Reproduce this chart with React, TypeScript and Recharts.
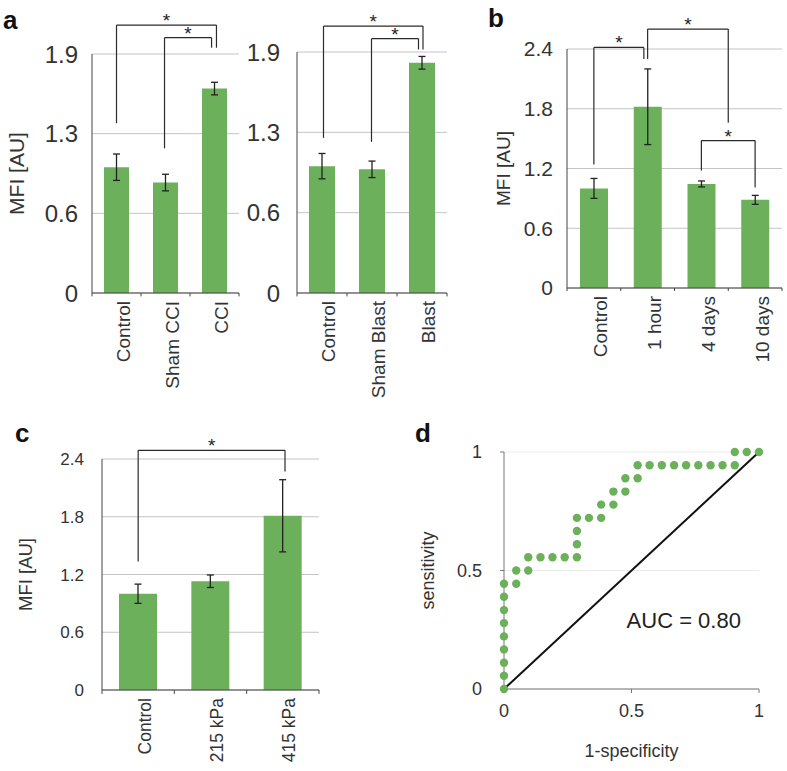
import React from 'react';
import {
  BarChart, Bar, XAxis, YAxis, CartesianGrid, ErrorBar, ReferenceLine,
  ScatterChart, Scatter, ReferenceDot,
} from 'recharts';

// ---------- Data ----------
const catsA1 = ['Control', 'Sham CCI', 'CCI'];
const valsA1 = [1.0, 0.878, 1.625];
const errA1 = [0.105, 0.066, 0.05];

const catsA2 = ['Control', 'Sham Blast', 'Blast'];
const valsA2 = [1.0, 0.975, 1.815];
const errA2 = [0.1, 0.065, 0.05];

const catsB = ['Control', '1 hour', '4 days', '10 days'];
const valsB = [1.0, 1.82, 1.045, 0.885];
const errB = [0.1, 0.38, 0.03, 0.045];

const catsC = ['Control', '215 kPa', '415 kPa'];
const valsC = [1.0, 1.13, 1.81];
const errC = [0.1, 0.065, 0.375];

const ticksA = [0, 0.6333, 1.2667, 1.9];
const ticksBC = [0, 0.6, 1.2, 1.8, 2.4];

// significance brackets: x in category-index units, y in value units
const bracketsA1 = [
  { x1: 0, x2: 2.04, top: 2.13, yl: 1.35, yr: 1.95 },
  { x1: 0.98, x2: 1.94, top: 2.03, yl: 1.15, yr: 1.95 },
];
const bracketsA2 = [
  { x1: 0.03, x2: 2.02, top: 2.104, yl: 1.223, yr: 1.92 },
  { x1: 0.99, x2: 1.93, top: 2.005, yl: 1.192, yr: 1.92 },
];
const bracketsB = [
  { x1: 0, x2: 0.93, top: 2.416, yl: 1.24, yr: 2.3 },
  { x1: 1.0, x2: 2.5, top: 2.6, yl: 2.3, yr: 1.66 },
  { x1: 2.0, x2: 3.0, top: 1.48, yl: 1.18, yr: 1.01 },
];
const bracketsC = [
  { x1: 0, x2: 2.03, top: 2.49, yl: 1.335, yr: 2.27 },
];

// ROC curve points
const rocFpr = [0, 0, 0, 0, 0, 0, 0, 0, 0, 0.048, 0.048, 0.095, 0.095, 0.143, 0.19, 0.238, 0.286, 0.286, 0.286, 0.286,
  0.333, 0.381, 0.381, 0.429, 0.429, 0.476, 0.476, 0.524, 0.524, 0.571, 0.619, 0.667, 0.714, 0.762, 0.81, 0.857, 0.905,
  0.905, 0.952, 1];
const rocTpr = [0, 0.056, 0.111, 0.167, 0.222, 0.278, 0.333, 0.389, 0.444, 0.444, 0.5, 0.5, 0.556, 0.556, 0.556, 0.556, 0.556, 0.611, 0.667, 0.722,
  0.722, 0.722, 0.778, 0.778, 0.833, 0.833, 0.889, 0.889, 0.944, 0.944, 0.944, 0.944, 0.944, 0.944, 0.944, 0.944, 0.944,
  1, 1, 1];
const rocTicks = [0, 0.5, 1];
const aucText = 'AUC = 0.80';

const GREEN = '#6cb05b';
const FONT = '"Liberation Sans", Arial, Helvetica, sans-serif';

type Bracket = { x1: number; x2: number; top: number; yl: number; yr: number };

type PanelProps = {
  cats: string[]; vals: number[]; errs: number[]; brackets: Bracket[];
  left: number; top: number; width: number; height: number;
  mTop: number; mRight: number; yWidth: number; xHeight: number;
  yMax: number; yTicks: number[]; tickFont: number; catFont: number;
  yLabel?: string; yLabelOffset?: number; yLabelFont?: number;
  barSize: number; yTickMargin: number; tickLen: number;
};

function BarPanel(p: PanelProps) {
  const data = p.cats.map((c, i) => ({ name: c, idx: i, v: p.vals[i], e: p.errs[i] }));
  const n = p.cats.length;
  const boundaries = Array.from({ length: n + 1 }, (_, k) => k - 0.5);
  const lineStyle = { stroke: '#2a2a2a', strokeWidth: 1.2 };
  return (
    <div style={{ position: 'absolute', left: p.left, top: p.top }}>
      <BarChart width={p.width} height={p.height} data={data}
        margin={{ top: p.mTop, right: p.mRight, left: 0, bottom: 0 }}>
        <CartesianGrid vertical={false} stroke="#c4c4c4" />
        <XAxis dataKey="name" type="category" height={p.xHeight} interval={0}
          axisLine={{ stroke: '#444' }} tickLine={false} tickSize={0} tickMargin={8}
          tick={{ angle: -90, textAnchor: 'end', verticalAnchor: 'middle', fontSize: p.catFont, fill: '#333' } as any} />
        <XAxis xAxisId="b" dataKey="idx" type="number" scale="linear" domain={[-0.5, n - 0.5]} hide allowDataOverflow />
        <YAxis type="number" domain={[0, p.yMax]} ticks={p.yTicks} allowDataOverflow width={p.yWidth}
          tickFormatter={(v: number) => (v === 0 ? '0' : v.toFixed(1))}
          axisLine={{ stroke: '#444' }} tickLine={false} tickMargin={p.yTickMargin}
          tick={{ fontSize: p.tickFont, fill: '#333' }}
          label={p.yLabel ? {
            value: p.yLabel, angle: -90, position: 'insideLeft', offset: p.yLabelOffset,
            style: { textAnchor: 'middle' }, fontSize: p.yLabelFont, fill: '#333',
          } : undefined} />
        <Bar dataKey="v" fill={GREEN} barSize={p.barSize} isAnimationActive={false}>
          <ErrorBar dataKey="e" direction="y" width={3.5} stroke="#222" strokeWidth={1.3} />
        </Bar>
        {boundaries.map((b) => (
          <ReferenceLine key={'t' + b} xAxisId="b" ifOverflow="visible"
            segment={[{ x: b, y: 0 }, { x: b, y: -p.tickLen }]} stroke="#444" strokeWidth={1} />
        ))}
        {p.brackets.map((br, i) => (
          <ReferenceLine key={'h' + i} xAxisId="b" ifOverflow="visible"
            segment={[{ x: br.x1, y: br.top }, { x: br.x2, y: br.top }]} {...lineStyle}
            label={{ value: '*', position: 'top', offset: -2, fontSize: 19, fill: '#222' }} />
        ))}
        {p.brackets.map((br, i) => (
          <ReferenceLine key={'l' + i} xAxisId="b" ifOverflow="visible"
            segment={[{ x: br.x1, y: br.top }, { x: br.x1, y: br.yl }]} {...lineStyle} />
        ))}
        {p.brackets.map((br, i) => (
          <ReferenceLine key={'r' + i} xAxisId="b" ifOverflow="visible"
            segment={[{ x: br.x2, y: br.top }, { x: br.x2, y: br.yr }]} {...lineStyle} />
        ))}
      </BarChart>
    </div>
  );
}

function RocPanel() {
  const data = rocFpr.map((x, i) => ({ x, y: rocTpr[i] }));
  return (
    <div style={{ position: 'absolute', left: 400, top: 400 }}>
      <ScatterChart width={387} height={371} margin={{ top: 52, right: 28, left: 0, bottom: 0 }}>
        <CartesianGrid vertical={false} stroke="#ececec" />
        <XAxis dataKey="x" type="number" domain={[0, 1]} ticks={rocTicks} height={82}
          axisLine={{ stroke: '#777' }} tickLine={{ stroke: '#777' }} tickSize={4} tickMargin={11}
          tick={{ fontSize: 18, fill: '#333' }}
          label={{ value: '1-specificity', position: 'insideBottom', offset: 14, fontSize: 18, fill: '#333' }} />
        <YAxis dataKey="y" type="number" domain={[0, 1]} ticks={rocTicks} width={104}
          axisLine={{ stroke: '#777' }} tickLine={{ stroke: '#777' }} tickSize={4} tickMargin={18}
          tick={{ fontSize: 18, fill: '#333' }}
          label={{ value: 'sensitivity', angle: -90, position: 'insideLeft', offset: 28,
            style: { textAnchor: 'middle' }, fontSize: 18, fill: '#333' }} />
        <ReferenceLine ifOverflow="visible" segment={[{ x: 0, y: 0 }, { x: 1, y: 1 }]} stroke="#111" strokeWidth={2} />
        <Scatter data={data} isAnimationActive={false} fill={GREEN}
          shape={(s: any) => <circle cx={s.cx} cy={s.cy} r={4.2} fill={GREEN} />} />
        <ReferenceDot x={0.705} y={0.29} r={0} ifOverflow="visible" stroke="none" fill="none"
          label={{ value: aucText, position: 'center', fontSize: 22, fill: '#222' }} />
      </ScatterChart>
    </div>
  );
}

const letterStyle: React.CSSProperties = {
  position: 'absolute', fontFamily: FONT, fontWeight: 'bold', fontSize: 26, lineHeight: '26px', color: '#111',
};

export default function App() {
  return (
    <div style={{ position: 'absolute', left: 0, top: 0, width: 787, height: 771, overflow: 'hidden',
      background: '#fff', fontFamily: FONT }}>
      <BarPanel cats={catsA1} vals={valsA1} errs={errA1} brackets={bracketsA1}
        left={0} top={0} width={250} height={420} mTop={54} mRight={11} yWidth={92} xHeight={127}
        yMax={1.9} yTicks={ticksA} tickFont={24} catFont={19} yLabel="MFI [AU]" yLabelOffset={17} yLabelFont={21}
        barSize={25} yTickMargin={8} tickLen={0.027} />
      <BarPanel cats={catsA2} vals={valsA2} errs={errA2} brackets={bracketsA2}
        left={236} top={0} width={214} height={420} mTop={52} mRight={3} yWidth={61} xHeight={127}
        yMax={1.9} yTicks={ticksA} tickFont={24} catFont={19}
        barSize={26} yTickMargin={11} tickLen={0.027} />
      <BarPanel cats={catsB} vals={valsB} errs={errB} brackets={bracketsB}
        left={480} top={0} width={307} height={420} mTop={49} mRight={5} yWidth={87} xHeight={132}
        yMax={2.4} yTicks={ticksBC} tickFont={21} catFont={19} yLabel="MFI [AU]" yLabelOffset={23} yLabelFont={19}
        barSize={28} yTickMargin={8} tickLen={0.03} />
      <BarPanel cats={catsC} vals={valsC} errs={errC} brackets={bracketsC}
        left={0} top={400} width={390} height={371} mTop={59} mRight={71} yWidth={102} xHeight={81}
        yMax={2.4} yTicks={ticksBC} tickFont={17} catFont={17.5} yLabel="MFI [AU]" yLabelOffset={25} yLabelFont={18.5}
        barSize={38} yTickMargin={12} tickLen={0.04} />
      <RocPanel />
      <div style={{ ...letterStyle, left: 3, top: 7 }}>a</div>
      <div style={{ ...letterStyle, left: 488, top: 5 }}>b</div>
      <div style={{ ...letterStyle, left: 15, top: 420 }}>c</div>
      <div style={{ ...letterStyle, left: 415, top: 420 }}>d</div>
    </div>
  );
}
